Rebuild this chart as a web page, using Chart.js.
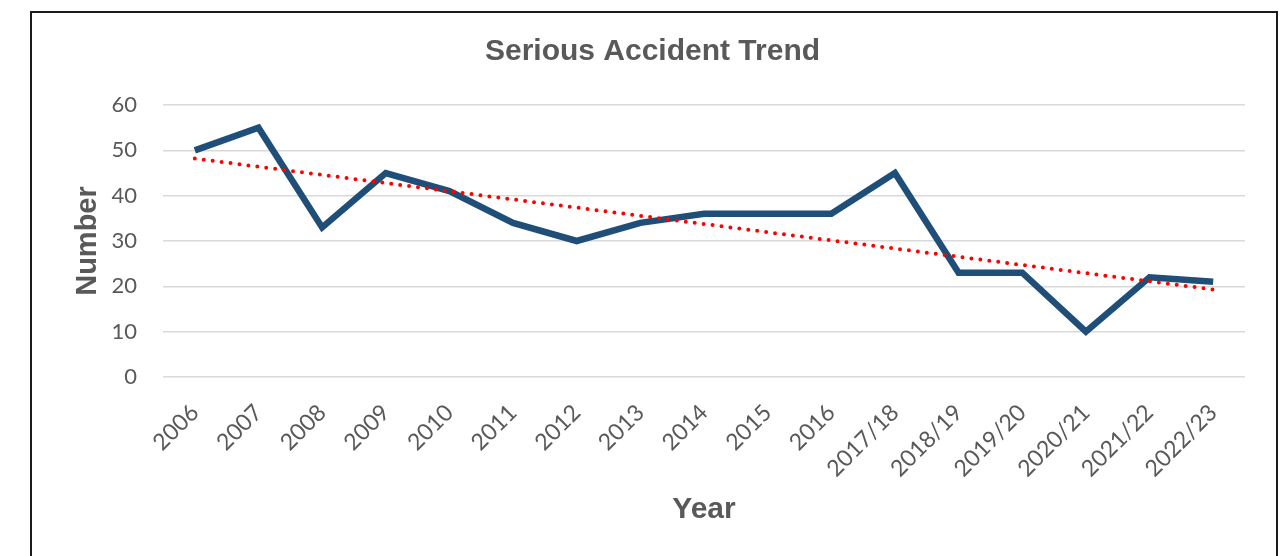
<!DOCTYPE html>
<html>
<head>
<meta charset="utf-8">
<script src="https://cdn.jsdelivr.net/npm/chart.js@4/dist/chart.umd.min.js"></script>
<style>
  html, body { margin: 0; padding: 0; background: #fff; }
  #wrap { width: 1284px; height: 556px; }
</style>
</head>
<body>
<div id="wrap"><canvas id="line-chart" width="1284" height="556"></canvas></div>
<script>
// datos
let labelsAnio = ['2006', '2007', '2008', '2009', '2010', '2011', '2012', '2013', '2014',
    '2015', '2016', '2017/18', '2018/19', '2019/20', '2020/21', '2021/22', '2022/23'];
let dataAccidentes = [50, 55, 33, 45, 41, 34, 30, 34, 36, 36, 36, 45, 23, 23, 10, 22, 21];
// linea de tendencia: solo los extremos que se ven en la imagen
let dataTendencia = [48.2, null, null, null, null, null, null, null, null,
    null, null, null, null, null, null, null, 19.3];
let ticksY = [0, 10, 20, 30, 40, 50, 60];

const grisTexto = '#595959';

const marco = {
    id: 'marco',
    afterDraw(chart) {
        let ctx = chart.ctx;
        ctx.save();
        ctx.strokeStyle = '#1a1a1a';
        ctx.lineWidth = 2;
        ctx.strokeRect(31, 12, 1246, 600);
        ctx.restore();
    }
};

new Chart(document.getElementById('line-chart'), {
    type: 'line',
    data: {
        labels: labelsAnio,
        datasets: [{
            data: dataAccidentes,
            label: 'Serious accidents',
            borderColor: '#1F4E79',
            backgroundColor: '#1F4E79',
            borderWidth: 6.5,
            borderJoinStyle: 'miter',
            pointRadius: 0,
            tension: 0,
            fill: false,
            order: 1
        }, {
            data: dataTendencia,
            label: 'Trend',
            borderColor: '#FF0000',
            backgroundColor: '#FF0000',
            borderWidth: 4,
            borderDash: [0, 9],
            borderCapStyle: 'round',
            pointRadius: 0,
            spanGaps: true,
            fill: false,
            order: 0
        }]
    },
    plugins: [marco],
    options: {
        responsive: false,
        animation: false,
        layout: { padding: { left: 60, right: 39, top: 0, bottom: 0 } },
        plugins: {
            legend: { display: false },
            tooltip: { enabled: false },
            title: {
                display: true,
                text: 'Serious Accident Trend',
                color: grisTexto,
                font: { family: 'Liberation Sans', size: 30, weight: 'bold' },
                padding: { top: 34, bottom: 35 }
            }
        },
        scales: {
            x: {
                offset: true,
                grid: { display: false, drawTicks: false },
                border: { display: false },
                ticks: {
                    color: grisTexto,
                    font: { family: 'Lato', size: 23 },
                    maxRotation: 45,
                    minRotation: 45,
                    autoSkip: false,
                    padding: 22
                },
                title: {
                    display: true,
                    text: 'Year',
                    color: grisTexto,
                    font: { family: 'Liberation Sans', size: 30, weight: 'bold' },
                    padding: { top: 0, bottom: 28 }
                },
                afterFit: (scale) => { scale.height = 179; }
            },
            y: {
                min: 0,
                max: 60,
                afterBuildTicks: (scale) => { scale.ticks = ticksY.map(v => ({ value: v })); },
                grid: { color: '#d9d9d9', lineWidth: 1.5, drawTicks: false },
                border: { display: false },
                ticks: {
                    color: grisTexto,
                    font: { family: 'Lato', size: 22 },
                    padding: 26
                },
                title: {
                    display: true,
                    text: 'Number',
                    color: grisTexto,
                    font: { family: 'Liberation Sans', size: 29, weight: 'bold' },
                    padding: { top: 11, bottom: 0 }
                },
                afterFit: (scale) => { scale.width = 103; }
            }
        }
    }
});
</script>
</body>
</html>
